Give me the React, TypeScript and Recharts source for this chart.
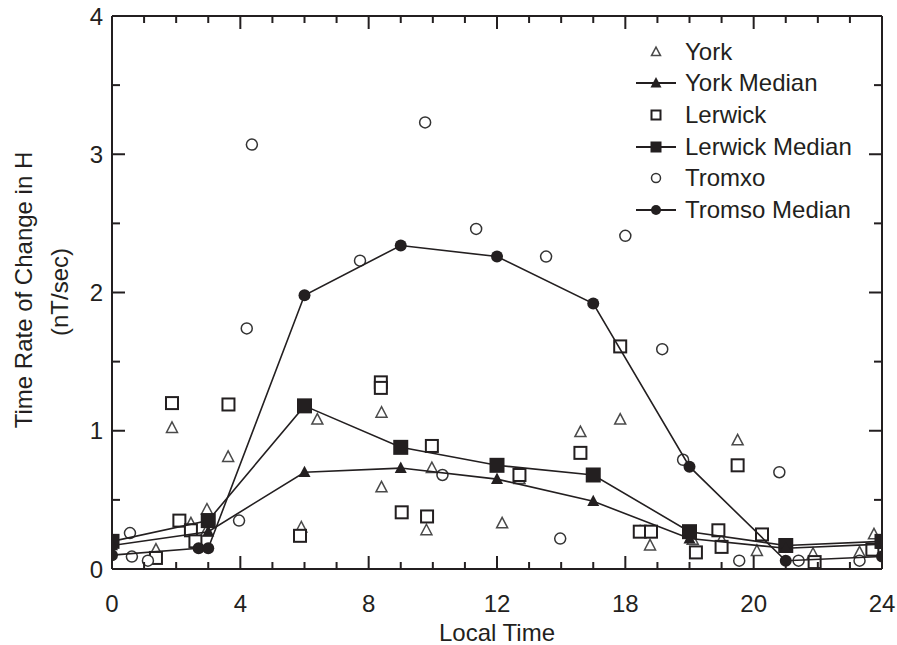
import { ReferenceLine, Scatter, ScatterChart, XAxis, YAxis } from "recharts"

type Pair = [number, number]

const york: Pair[] = [
  [1.37, 0.14], [1.87, 1.02], [2.46, 0.33], [2.93, 0.27], [2.96, 0.43], [3.62, 0.81],
  [5.9, 0.3], [6.4, 1.08], [8.4, 1.13], [8.4, 0.59], [9.8, 0.28], [9.97, 0.73],
  [12.16, 0.33], [12.7, 0.65], [14.6, 0.99], [15.84, 1.08], [16.46, 0.27], [16.77, 0.17],
  [18.1, 0.21], [19.0, 0.21], [19.5, 0.93], [20.1, 0.13], [21.85, 0.11], [23.3, 0.12],
  [23.75, 0.25],
]

const yorkMedian: Pair[] = [
  [0, 0.17], [3, 0.27], [6, 0.7], [9, 0.73], [12, 0.65], [15, 0.49], [18, 0.22], [21, 0.15], [24, 0.18],
]

const lerwick: Pair[] = [
  [1.37, 0.08], [1.87, 1.2], [2.1, 0.35], [2.46, 0.28], [2.6, 0.2], [3.63, 1.19],
  [5.86, 0.24], [8.38, 1.35], [8.38, 1.31], [9.03, 0.41], [9.82, 0.38], [9.97, 0.89],
  [12.7, 0.68], [14.6, 0.84], [15.84, 1.61], [16.45, 0.27], [16.8, 0.27], [18.2, 0.12],
  [18.9, 0.28], [19.0, 0.16], [19.5, 0.75], [20.26, 0.25], [21.9, 0.05], [23.7, 0.14],
  [24.0, 0.2],
]

const lerwickMedian: Pair[] = [
  [0, 0.2], [3, 0.35], [6, 1.18], [9, 0.88], [12, 0.75], [15, 0.68], [18, 0.27], [21, 0.17], [24, 0.2],
]

const tromxo: Pair[] = [
  [0.56, 0.26], [0.62, 0.09], [1.12, 0.06], [3.96, 0.35], [4.2, 1.74], [4.36, 3.07],
  [7.73, 2.23], [9.76, 3.23], [10.3, 0.68], [11.35, 2.46], [13.53, 2.26], [13.97, 0.22],
  [16.0, 2.41], [17.15, 1.59], [17.8, 0.79], [19.55, 0.06], [20.8, 0.7], [21.4, 0.06],
  [23.3, 0.06],
]

const tromsoMedian: Pair[] = [
  [0, 0.1], [2.7, 0.15], [3, 0.15], [6, 1.98], [9, 2.34], [12, 2.26], [15, 1.92], [18, 0.74], [21, 0.06], [24, 0.09],
]

// every hour gets a tick, the labelled ones are listed here (the figure prints "18" at 16)
const xTicks = [0, 4, 8, 12, 16, 20, 24]
const xTickLabels = ["0", "4", "8", "12", "18", "20", "24"]
const hourTicks = Array.from({ length: 25 }, (_, i) => i)
const yTicks = [0, 1, 2, 3, 4]
const yMinorTicks = [0, 0.5, 1, 1.5, 2, 2.5, 3, 3.5, 4]

const legendLabels = ["York", "York Median", "Lerwick", "Lerwick Median", "Tromxo", "Tromso Median"]

const toPoints = (pairs: Pair[]) => pairs.map(([x, y]) => ({ x, y }))

const INK = "#231f20"
const FONT = "'Liberation Sans', Arial, Helvetica, sans-serif"
const W = 897
const H = 645
const PLOT_LEFT = 112
const PLOT_RIGHT = 882
const PLOT_TOP = 16
const PLOT_BOTTOM = 569

const OpenTriangle = ({ cx, cy, s = 11 }: any) => (
  <polygon
    points={`${cx},${cy - s * 0.55} ${cx - s / 2},${cy + s * 0.4} ${cx + s / 2},${cy + s * 0.4}`}
    fill="#fff"
    stroke="#4a4a4a"
    strokeWidth={1.5}
  />
)
const FilledTriangle = ({ cx, cy, s = 12 }: any) => (
  <polygon
    points={`${cx},${cy - s * 0.55} ${cx - s / 2},${cy + s * 0.4} ${cx + s / 2},${cy + s * 0.4}`}
    fill={INK}
  />
)
const OpenSquare = ({ cx, cy, s = 12 }: any) => (
  <rect x={cx - s / 2} y={cy - s / 2} width={s} height={s} fill="#fff" stroke={INK} strokeWidth={2} />
)
const FilledSquare = ({ cx, cy, s = 15 }: any) => (
  <rect x={cx - s / 2} y={cy - s / 2} width={s} height={s} fill={INK} />
)
const OpenCircle = ({ cx, cy, r = 5.5 }: any) => (
  <circle cx={cx} cy={cy} r={r} fill="#fff" stroke="#333" strokeWidth={1.5} />
)
const FilledCircle = ({ cx, cy, r = 6 }: any) => <circle cx={cx} cy={cy} r={r} fill={INK} />

const XTick = ({ x, y, payload }: any) => {
  const i = xTicks.indexOf(payload.value)
  const len = i >= 0 ? 13 : 7
  return (
    <g>
      <line x1={x} x2={x} y1={y} y2={y - len} stroke={INK} strokeWidth={2} />
      <line x1={x} x2={x} y1={PLOT_TOP} y2={PLOT_TOP + len} stroke={INK} strokeWidth={2} />
      {i >= 0 && (
        <text x={x} y={y + 43} textAnchor="middle" fontSize={24} fontFamily={FONT} fill={INK}>
          {xTickLabels[i]}
        </text>
      )}
    </g>
  )
}

const YTick = ({ x, y, payload }: any) => {
  const major = yTicks.includes(payload.value)
  const len = major ? 13 : 8
  return (
    <g>
      <line x1={x} x2={x + len} y1={y} y2={y} stroke={INK} strokeWidth={2} />
      <line x1={PLOT_RIGHT} x2={PLOT_RIGHT - len} y1={y} y2={y} stroke={INK} strokeWidth={2} />
      {major && (
        <text x={x - 9} y={y} dy="0.36em" textAnchor="end" fontSize={24} fontFamily={FONT} fill={INK}>
          {payload.value}
        </text>
      )}
    </g>
  )
}

const legendIcons = [
  <OpenTriangle cx={24} cy={16} s={9} />,
  <g>
    <line x1={4} x2={44} y1={16} y2={16} stroke={INK} strokeWidth={2} />
    <FilledTriangle cx={24} cy={16} s={11} />
  </g>,
  <OpenSquare cx={24} cy={16} s={9} />,
  <g>
    <line x1={4} x2={44} y1={16} y2={16} stroke={INK} strokeWidth={2} />
    <FilledSquare cx={24} cy={16} s={11} />
  </g>,
  <OpenCircle cx={24} cy={16} r={4.5} />,
  <g>
    <line x1={4} x2={44} y1={16} y2={16} stroke={INK} strokeWidth={2} />
    <FilledCircle cx={24} cy={16} r={5} />
  </g>,
]

const LegendBox = () => (
  <div
    style={{ position: "absolute", left: 632, top: 36, fontFamily: FONT, fontSize: 24, color: INK }}
  >
    {legendLabels.map((label, i) => (
      <div key={label} style={{ display: "flex", alignItems: "center", height: 31.6 }}>
        <svg width={50} height={32} style={{ flex: "none" }}>
          {legendIcons[i]}
        </svg>
        <span style={{ marginLeft: 3, lineHeight: "32px", whiteSpace: "nowrap" }}>{label}</span>
      </div>
    ))}
  </div>
)

const YLabel = () => (
  <g fontFamily={FONT} fontSize={24} fill={INK}>
    <text x={23} y={290} textAnchor="middle" dominantBaseline="central" transform="rotate(-90, 23, 290)">
      Time Rate of Change in H
    </text>
    <text x={59} y={292} textAnchor="middle" dominantBaseline="central" transform="rotate(-90, 59, 292)">
      (nT/sec)
    </text>
  </g>
)

export default function App() {
  return (
    <div style={{ position: "absolute", left: 0, top: 0, width: W, height: H, background: "#fff" }}>
      <ScatterChart
        width={W}
        height={H}
        margin={{ top: PLOT_TOP, right: W - PLOT_RIGHT, bottom: 0, left: 0 }}
      >
        <XAxis
          type="number"
          dataKey="x"
          domain={[0, 24]}
          ticks={hourTicks}
          interval={0}
          allowDataOverflow
          height={H - PLOT_BOTTOM}
          tickLine={false}
          tickSize={0}
          tickMargin={0}
          tick={<XTick />}
          axisLine={{ stroke: INK, strokeWidth: 2 }}
          label={{ value: "Local Time", position: "insideBottom", offset: 4, fontSize: 24, fontFamily: FONT, fill: INK }}
        />
        <YAxis
          type="number"
          dataKey="y"
          domain={[0, 4]}
          ticks={yMinorTicks}
          interval={0}
          allowDataOverflow
          width={PLOT_LEFT}
          tickLine={false}
          tickSize={0}
          tickMargin={0}
          tick={<YTick />}
          axisLine={{ stroke: INK, strokeWidth: 2 }}
          label={{ content: () => <YLabel /> }}
        />
        <ReferenceLine y={4} stroke={INK} strokeWidth={2} />
        <ReferenceLine x={24} stroke={INK} strokeWidth={2} />
        <Scatter name="York" data={toPoints(york)} shape={(p: any) => <OpenTriangle cx={p.cx} cy={p.cy} />} isAnimationActive={false} />
        <Scatter name="Lerwick" data={toPoints(lerwick)} shape={(p: any) => <OpenSquare cx={p.cx} cy={p.cy} />} isAnimationActive={false} />
        <Scatter name="Tromxo" data={toPoints(tromxo)} shape={(p: any) => <OpenCircle cx={p.cx} cy={p.cy} />} isAnimationActive={false} />
        <Scatter
          name="Tromso Median"
          data={toPoints(tromsoMedian)}
          line={{ stroke: INK, strokeWidth: 1.6 }}
          shape={(p: any) => <FilledCircle cx={p.cx} cy={p.cy} />}
          isAnimationActive={false}
        />
        <Scatter
          name="Lerwick Median"
          data={toPoints(lerwickMedian)}
          line={{ stroke: INK, strokeWidth: 1.6 }}
          shape={(p: any) => <FilledSquare cx={p.cx} cy={p.cy} />}
          isAnimationActive={false}
        />
        <Scatter
          name="York Median"
          data={toPoints(yorkMedian)}
          line={{ stroke: INK, strokeWidth: 1.6 }}
          shape={(p: any) => <FilledTriangle cx={p.cx} cy={p.cy} />}
          isAnimationActive={false}
        />
      </ScatterChart>
      <LegendBox />
    </div>
  )
}
